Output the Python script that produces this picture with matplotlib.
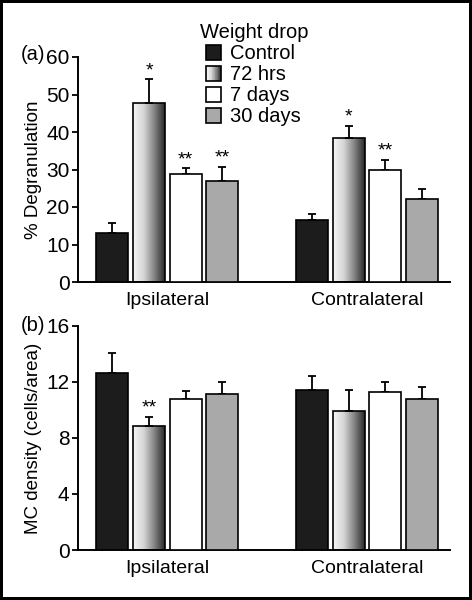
import numpy as np
import matplotlib
matplotlib.use("Agg")
import matplotlib.pyplot as plt
from matplotlib.patches import Rectangle
from matplotlib.legend_handler import HandlerBase

plt.rcParams['font.family'] = ['Liberation Sans', 'DejaVu Sans']

groups = ['Ipsilateral', 'Contralateral']
series = ['Control', '72 hrs', '7 days', '30 days']

# panel (a) % degranulation, rows = series, cols = groups
degran = [[13.2, 16.6], [47.8, 38.5], [28.8, 29.8], [27.0, 22.2]]
degran_err = [[2.5, 1.6], [6.3, 3.2], [1.6, 2.8], [3.8, 2.6]]
degran_stars = [['', ''], ['*', '*'], ['**', '**'], ['**', '']]

# panel (b) MC density
density = [[12.6, 11.4], [8.85, 9.9], [10.8, 11.25], [11.1, 10.75]]
density_err = [[1.45, 1.0], [0.65, 1.5], [0.55, 0.75], [0.9, 0.9]]
density_stars = [['', ''], ['**', ''], ['', ''], ['', '']]

colors = ['#1c1c1c', None, 'white', '#a9a9a9']
grad_cmap = matplotlib.colors.LinearSegmentedColormap.from_list(
    'g', ['#f6f6f6', '#d6d6d6', '#858585', '#2a2a2a'])
group_x = np.array([0.94, 6.38])
width = 0.87


class HandlerGradient(HandlerBase):
    def create_artists(self, legend, orig, xd, yd, w, h, fontsize, trans):
        arts = []
        n = 20
        for i in range(n):
            r = Rectangle((-xd + w * i / n, -yd), w / n, h,
                          facecolor=grad_cmap(i / (n - 1)), edgecolor='none',
                          transform=trans)
            arts.append(r)
        arts.append(Rectangle((-xd, -yd), w, h, facecolor='none',
                              edgecolor='black', lw=1.2, transform=trans))
        return arts


def draw_panel(ax, vals, errs, stars, ymax, yticks, ylabel, star_off):
    handles = []
    for i, name in enumerate(series):
        x = group_x + i
        v = np.array(vals[i])
        e = np.array(errs[i])
        fc = colors[i] if colors[i] is not None else 'none'
        bars = ax.bar(x, v, width, color=fc, edgecolor='black', lw=1.2,
                      zorder=3, label=name)
        if colors[i] is None:
            for p in bars.patches:
                grad = np.linspace(0, 1, 100).reshape(1, -1)
                im = ax.imshow(grad, extent=[p.get_x(), p.get_x() + p.get_width(),
                                             0, p.get_height()],
                               aspect='auto', cmap=grad_cmap, zorder=2)
                im.set_clip_path(p)
        ax.errorbar(x, v, yerr=[np.zeros_like(e), e], fmt='none', ecolor='black',
                    elinewidth=1.3, capsize=3, capthick=1.3, zorder=2.5)
        for xi, vi, ei, s in zip(x, v, e, stars[i]):
            if s:
                ax.text(xi, vi + ei + star_off, s, ha='center', va='bottom',
                        fontsize=14)
        handles.append(bars)
    ax.set_xlim(0, 10.14)
    ax.set_ylim(0, ymax)
    ax.set_yticks(yticks)
    ax.set_xticks(group_x + 1.5)
    ax.set_xticklabels(groups)
    ax.tick_params(axis='x', length=0, labelsize=14, pad=7)
    ax.tick_params(axis='y', length=4, width=1.3, labelsize=15, pad=2)
    for s in ['top', 'right']:
        ax.spines[s].set_visible(False)
    for s in ['left', 'bottom']:
        ax.spines[s].set_linewidth(1.4)
    ax.set_ylabel(ylabel, fontsize=13.5, labelpad=3)
    return handles


fig = plt.figure(figsize=(4.72, 6), dpi=100)
fig.patch.set_edgecolor('black')
fig.patch.set_linewidth(3)

ax1 = fig.add_axes([0.165, 0.53, 0.788, 0.375])
ax2 = fig.add_axes([0.165, 0.0833, 0.788, 0.3737])

h = draw_panel(ax1, degran, degran_err, degran_stars, 60, range(0, 61, 10),
               '% Degranulation', 0.0)
draw_panel(ax2, density, density_err, density_stars, 16, range(0, 17, 4),
           'MC density (cells/area)', 0.0)

leg = ax1.legend(h, series, title='Weight drop', loc='upper left',
                 bbox_to_anchor=(0.30, 1.195), frameon=False, fontsize=14.5,
                 title_fontsize=14.5, handlelength=0.75, handleheight=0.75,
                 handletextpad=0.45, labelspacing=0.1, borderpad=0,
                 handler_map={h[1]: HandlerGradient()})

fig.text(0.045, 0.91, '(a)', fontsize=14.5, va='center')
fig.text(0.045, 0.458, '(b)', fontsize=14.5, va='center')

fig.savefig('out.png', dpi=100)
